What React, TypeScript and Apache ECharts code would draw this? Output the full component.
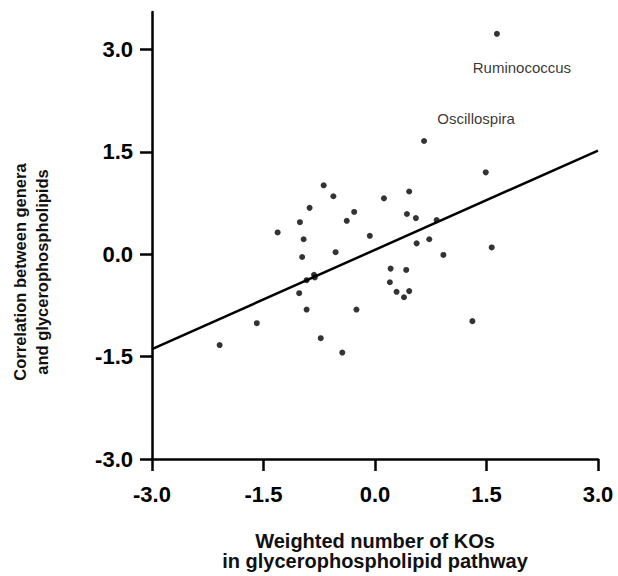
import React, { useEffect, useRef } from "react";
import * as echarts from "echarts";

// Weighted number of KOs (x) vs correlation (y), one point per genus
const genusX = [
  1.64, 0.66, 1.49, 0.12, 0.46, 0.43, 0.55, 0.83, 0.73, -0.69, -0.56, -0.88,
  -0.28, -1.01, -0.38, -1.31, -0.96, -0.07, -0.53, -0.98, -0.82, -0.81, -0.92,
  -1.02, -0.92, -0.25, -1.59, -0.73, -2.09, -0.44, 0.56, 0.92, 1.57, 0.21, 0.42,
  0.2, 0.29, 0.46, 0.39, 1.31,
];
const genusY = [
  3.23, 1.66, 1.2, 0.82, 0.92, 0.59, 0.53, 0.5, 0.22, 1.01, 0.85, 0.68, 0.62,
  0.47, 0.49, 0.32, 0.22, 0.27, 0.03, -0.04, -0.3, -0.34, -0.38, -0.57, -0.81,
  -0.81, -1.01, -1.23, -1.33, -1.44, 0.16, -0.01, 0.1, -0.21, -0.23, -0.41,
  -0.55, -0.54, -0.63, -0.98,
];
const genusNames = ["Ruminococcus", "Oscillospira"];

// Regression line end points
const fitX = [-3, 3];
const fitY = [-1.39, 1.52];

const tickValues = [-3, -1.5, 0, 1.5, 3];

const FONT = "'Liberation Sans', Arial, Helvetica, sans-serif";

export default function App() {
  const ref = useRef<HTMLDivElement>(null);

  useEffect(() => {
    if (!ref.current) return;
    const chart = echarts.init(ref.current, undefined, { renderer: "svg" });

    const labelOffsets: Record<string, number[]> = {
      Ruminococcus: [25, 34],
      Oscillospira: [52, -22],
    };

    const scatterData = genusX.map((x, i) => {
      const name = genusNames[i];
      const item: any = { value: [x, genusY[i]] };
      if (name) {
        item.name = name;
        item.label = {
          show: true,
          formatter: name,
          position: "inside",
          offset: labelOffsets[name],
          fontFamily: FONT,
          fontSize: 15,
          color: "#000",
        };
      }
      return item;
    });

    const axisCommon = {
      type: "value" as const,
      splitLine: { show: false },
      axisLine: {
        show: true,
        onZero: false,
        lineStyle: { color: "#000", width: 2.5 },
      },
      axisTick: {
        show: true,
        length: 12,
        inside: false,
        lineStyle: { color: "#000", width: 2.5 },
        customValues: tickValues,
      },
    };

    chart.setOption({
      animation: false,
      backgroundColor: "#fff",
      grid: { left: 152, right: 20, top: 12, bottom: 117, containLabel: false },
      xAxis: {
        ...axisCommon,
        min: -3,
        max: 3,
        interval: 1.5,
        axisLabel: {
          margin: 24,
          fontFamily: FONT,
          fontWeight: "bold",
          fontSize: 22,
          color: "#000",
          customValues: tickValues,
          formatter: (v: number) => v.toFixed(1),
        },
      },
      yAxis: {
        ...axisCommon,
        min: -3,
        max: 3.55,
        axisLabel: {
          margin: 19,
          fontFamily: FONT,
          fontWeight: "bold",
          fontSize: 22,
          color: "#000",
          customValues: tickValues,
          formatter: (v: number) => v.toFixed(1),
        },
      },
      graphic: [
        {
          type: "text",
          x: 31,
          y: 272,
          rotation: Math.PI / 2,
          style: {
            text: "Correlation between genera\nand glycerophospholipids",
            fontFamily: FONT,
            fontWeight: "bold",
            fontSize: 16.5,
            lineHeight: 22,
            fill: "#111",
            align: "center",
            verticalAlign: "middle",
          },
        },
        {
          type: "text",
          x: 375,
          y: 551,
          style: {
            text: "Weighted number of KOs\nin glycerophospholipid pathway",
            fontFamily: FONT,
            fontWeight: "bold",
            fontSize: 20,
            lineHeight: 20,
            fill: "#111",
            align: "center",
            verticalAlign: "middle",
          },
        },
      ],
      series: [
        {
          type: "line",
          data: fitX.map((x, i) => [x, fitY[i]]),
          showSymbol: false,
          lineStyle: { color: "#000", width: 2.5 },
          z: 2,
        },
        {
          type: "scatter",
          data: scatterData,
          symbol: "circle",
          symbolSize: 6,
          itemStyle: { color: "#000" },
          z: 3,
        },
      ],
    });

    return () => chart.dispose();
  }, []);

  return (
    <div
      ref={ref}
      style={{ position: "fixed", left: 0, top: 0, width: 618, height: 576 }}
    />
  );
}
